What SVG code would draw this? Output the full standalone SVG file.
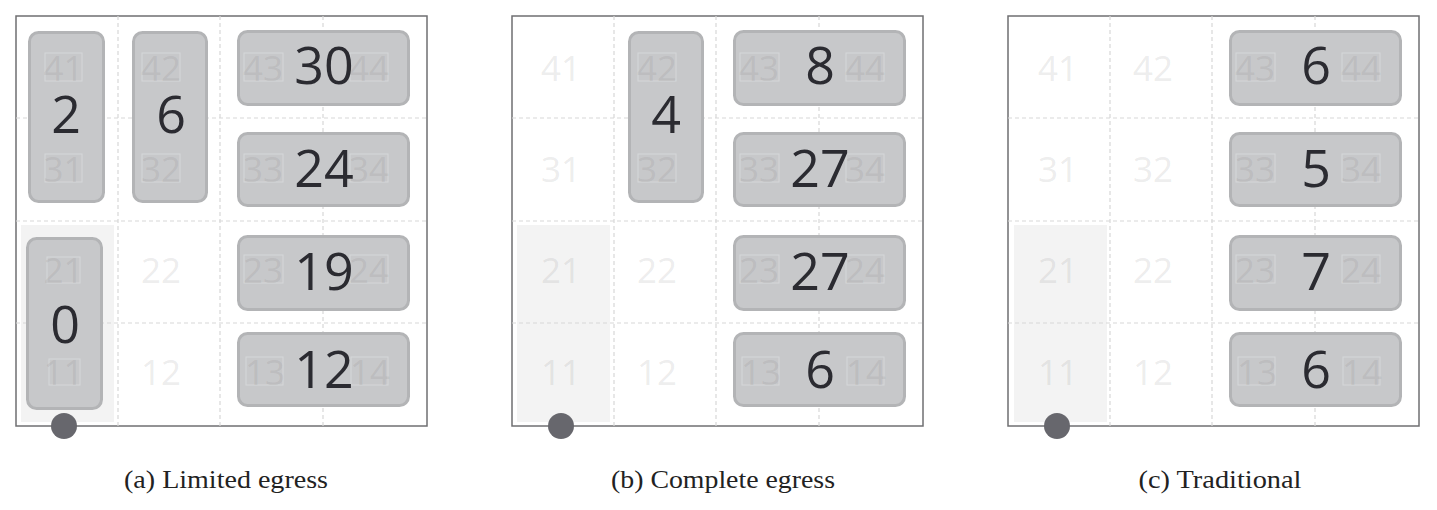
<svg xmlns="http://www.w3.org/2000/svg" width="1437" height="510" viewBox="0 0 1437 510">
<style>
.frame{fill:#ffffff;stroke:#6f6f72;stroke-width:1.5}
.bg{fill:#f3f3f3}
.grid{stroke:#d8d8d8;stroke-width:1.2;stroke-dasharray:4 3;fill:none}
.node{fill:#c7c8ca;stroke:#b3b4b6;stroke-width:3}
.lbl{font-family:"Open Sans","Noto Sans",sans-serif;font-size:35px;fill:#777;fill-opacity:0.15;text-anchor:middle}
.box{fill:none;stroke:#d6d7d9;stroke-width:1}
.val{font-family:"Open Sans","Noto Sans",sans-serif;font-size:52px;fill:#2b2b31;text-anchor:middle}
.door{fill:#67676d}
.cap{font-family:"Liberation Serif","DejaVu Serif",serif;font-size:25px;fill:#222;text-anchor:middle}
</style>
<defs>
<g id="gridlines">
<line class="grid" x1="118" y1="16" x2="118" y2="426"/>
<line class="grid" x1="220" y1="16" x2="220" y2="426"/>
<line class="grid" x1="323" y1="16" x2="323" y2="426"/>
<line class="grid" x1="16" y1="118" x2="427" y2="118"/>
<line class="grid" x1="16" y1="221" x2="427" y2="221"/>
<line class="grid" x1="16" y1="323" x2="427" y2="323"/>
</g>
</defs>

<!-- Panel (a) -->
<g id="panel-a">
<rect class="frame" x="16" y="16" width="411" height="410"/>
<rect class="bg" x="21" y="225" width="93" height="197"/>
<use href="#gridlines"/>
<g id="a-free">
<text class="lbl" x="161" y="283">22</text>
<text class="lbl" x="161" y="385">12</text>
</g>
<g id="a-n41">
<rect class="node" x="29.5" y="32.5" width="74" height="169" rx="9"/>
<rect class="box" x="45" y="53" width="37" height="28"/><rect class="box" x="45" y="154" width="37" height="28"/>
<text class="lbl" x="63.5" y="81">41</text><text class="lbl" x="63.5" y="182">31</text>
<text class="val" x="66" y="133">2</text>
</g>
<g id="a-n42">
<rect class="node" x="133.5" y="32.5" width="73" height="169" rx="9"/>
<rect class="box" x="142" y="53" width="38" height="28"/><rect class="box" x="142" y="154" width="38" height="28"/>
<text class="lbl" x="161" y="81">42</text><text class="lbl" x="161" y="182">32</text>
<text class="val" x="171" y="133">6</text>
</g>
<g id="a-n43">
<rect class="node" x="238.5" y="31.5" width="170" height="73" rx="9"/>
<rect class="box" x="244" y="53" width="39" height="28"/><rect class="box" x="350" y="53" width="38" height="28"/>
<text class="lbl" x="263" y="81">43</text><text class="lbl" x="369" y="81">44</text>
<text class="val" x="324" y="84">30</text>
</g>
<g id="a-n33">
<rect class="node" x="238.5" y="133.5" width="170" height="72" rx="9"/>
<rect class="box" x="244" y="154" width="39" height="28"/><rect class="box" x="350" y="154" width="38" height="28"/>
<text class="lbl" x="263" y="182">33</text><text class="lbl" x="369" y="182">34</text>
<text class="val" x="324" y="187">24</text>
</g>
<g id="a-n23">
<rect class="node" x="238.5" y="236.5" width="170" height="73" rx="9"/>
<rect class="box" x="244" y="255" width="39" height="28"/><rect class="box" x="350" y="255" width="38" height="28"/>
<text class="lbl" x="263" y="283">23</text><text class="lbl" x="369" y="283">24</text>
<text class="val" x="324" y="290">19</text>
</g>
<g id="a-n13">
<rect class="node" x="238.5" y="333.5" width="170" height="72" rx="9"/>
<rect class="box" x="246" y="357" width="37" height="28"/><rect class="box" x="351" y="357" width="37" height="28"/>
<text class="lbl" x="265" y="385">13</text><text class="lbl" x="370" y="385">14</text>
<text class="val" x="324" y="388">12</text>
</g>
<g id="a-n21">
<rect class="node" x="27.5" y="238.5" width="74" height="170" rx="9"/>
<rect class="box" x="47" y="257" width="33" height="26"/><rect class="box" x="49" y="359" width="31" height="26"/>
<text class="lbl" x="63.5" y="283">21</text><text class="lbl" x="63.5" y="385">11</text>
<text class="val" x="65" y="343">0</text>
</g>
<circle id="a-door" class="door" cx="64" cy="426" r="13"/>
<text class="cap" x="226" y="488" textLength="204" lengthAdjust="spacingAndGlyphs">(a) Limited egress</text>
</g>

<!-- Panel (b) -->
<g id="panel-b" transform="translate(496,0)">
<rect class="frame" x="16" y="16" width="411" height="410"/>
<rect class="bg" x="21" y="225" width="93" height="197"/>
<use href="#gridlines"/>
<g id="b-free">
<text class="lbl" x="65" y="81">41</text>
<text class="lbl" x="65" y="182">31</text>
<text class="lbl" x="65" y="283">21</text>
<text class="lbl" x="161" y="283">22</text>
<text class="lbl" x="65" y="385">11</text>
<text class="lbl" x="161" y="385">12</text>
</g>
<g id="b-n42">
<rect class="node" x="133.5" y="32.5" width="73" height="169" rx="9"/>
<rect class="box" x="142" y="53" width="38" height="28"/><rect class="box" x="142" y="154" width="38" height="28"/>
<text class="lbl" x="161" y="81">42</text><text class="lbl" x="161" y="182">32</text>
<text class="val" x="170" y="133">4</text>
</g>
<g id="b-n43">
<rect class="node" x="238.5" y="31.5" width="170" height="73" rx="9"/>
<rect class="box" x="244" y="53" width="39" height="28"/><rect class="box" x="350" y="53" width="38" height="28"/>
<text class="lbl" x="263" y="81">43</text><text class="lbl" x="369" y="81">44</text>
<text class="val" x="324" y="84">8</text>
</g>
<g id="b-n33">
<rect class="node" x="238.5" y="133.5" width="170" height="72" rx="9"/>
<rect class="box" x="244" y="154" width="39" height="28"/><rect class="box" x="350" y="154" width="38" height="28"/>
<text class="lbl" x="263" y="182">33</text><text class="lbl" x="369" y="182">34</text>
<text class="val" x="324" y="187">27</text>
</g>
<g id="b-n23">
<rect class="node" x="238.5" y="236.5" width="170" height="73" rx="9"/>
<rect class="box" x="244" y="255" width="39" height="28"/><rect class="box" x="350" y="255" width="38" height="28"/>
<text class="lbl" x="263" y="283">23</text><text class="lbl" x="369" y="283">24</text>
<text class="val" x="324" y="290">27</text>
</g>
<g id="b-n13">
<rect class="node" x="238.5" y="333.5" width="170" height="72" rx="9"/>
<rect class="box" x="246" y="357" width="37" height="28"/><rect class="box" x="351" y="357" width="37" height="28"/>
<text class="lbl" x="265" y="385">13</text><text class="lbl" x="370" y="385">14</text>
<text class="val" x="324" y="388">6</text>
</g>
<circle id="b-door" class="door" cx="65" cy="426" r="13"/>
<text class="cap" x="227" y="488" textLength="224" lengthAdjust="spacingAndGlyphs">(b) Complete egress</text>
</g>

<!-- Panel (c) -->
<g id="panel-c" transform="translate(992,0)">
<rect class="frame" x="16" y="16" width="411" height="410"/>
<rect class="bg" x="22" y="225" width="93" height="197"/>
<use href="#gridlines"/>
<g id="c-free">
<text class="lbl" x="66" y="81">41</text>
<text class="lbl" x="161" y="81">42</text>
<text class="lbl" x="66" y="182">31</text>
<text class="lbl" x="161" y="182">32</text>
<text class="lbl" x="66" y="283">21</text>
<text class="lbl" x="161" y="283">22</text>
<text class="lbl" x="66" y="385">11</text>
<text class="lbl" x="161" y="385">12</text>
</g>
<g id="c-n43">
<rect class="node" x="238.5" y="31.5" width="170" height="73" rx="9"/>
<rect class="box" x="244" y="53" width="39" height="28"/><rect class="box" x="350" y="53" width="38" height="28"/>
<text class="lbl" x="263" y="81">43</text><text class="lbl" x="369" y="81">44</text>
<text class="val" x="324" y="84">6</text>
</g>
<g id="c-n33">
<rect class="node" x="238.5" y="133.5" width="170" height="72" rx="9"/>
<rect class="box" x="244" y="154" width="39" height="28"/><rect class="box" x="350" y="154" width="38" height="28"/>
<text class="lbl" x="263" y="182">33</text><text class="lbl" x="369" y="182">34</text>
<text class="val" x="324" y="187">5</text>
</g>
<g id="c-n23">
<rect class="node" x="238.5" y="236.5" width="170" height="73" rx="9"/>
<rect class="box" x="244" y="255" width="39" height="28"/><rect class="box" x="350" y="255" width="38" height="28"/>
<text class="lbl" x="263" y="283">23</text><text class="lbl" x="369" y="283">24</text>
<text class="val" x="324" y="290">7</text>
</g>
<g id="c-n13">
<rect class="node" x="238.5" y="333.5" width="170" height="72" rx="9"/>
<rect class="box" x="246" y="357" width="37" height="28"/><rect class="box" x="351" y="357" width="37" height="28"/>
<text class="lbl" x="265" y="385">13</text><text class="lbl" x="370" y="385">14</text>
<text class="val" x="324" y="388">6</text>
</g>
<circle id="c-door" class="door" cx="65" cy="426" r="13"/>
<text class="cap" x="228" y="488" textLength="163" lengthAdjust="spacingAndGlyphs">(c) Traditional</text>
</g>
<g id="connectors"/>
</svg>
